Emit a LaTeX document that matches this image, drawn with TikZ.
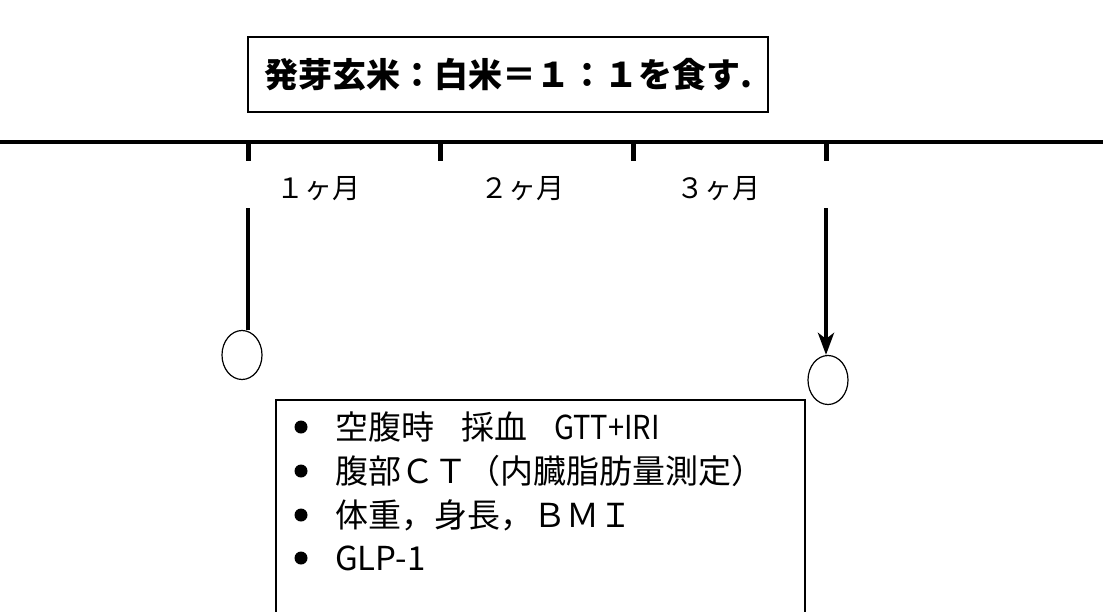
\documentclass[tikz,border=0pt]{standalone}
\usepackage{fontspec}
\usepackage{graphicx}
\setmainfont{Noto Sans CJK JP}
\usetikzlibrary{shapes.geometric,arrows.meta}
\begin{document}
\begin{tikzpicture}[x=1pt,y=-1pt,
  axisline/.style={line width=4pt},
  tickmark/.style={line width=5pt},
  conn/.style={line width=4pt},
  visit/.style={draw, ellipse, line width=1.2pt, minimum width=40pt, minimum height=49pt, inner sep=0pt},
  titlebox/.style={draw, line width=1.2pt, minimum width=520pt, minimum height=75pt, inner sep=0pt, font=\bfseries\fontsize{34}{38}\selectfont},
  bul/.style={circle, fill=black, minimum size=13pt, inner sep=0pt},
  itemtext/.style={anchor=west, inner sep=0pt, font=\fontsize{33}{36}\selectfont},
  monthlabel/.style={inner sep=0pt, font=\fontsize{28}{32}\selectfont}
]
\useasboundingbox (0,0) rectangle (1103,611);
\fill[white] (0,0) rectangle (1103,611);

\node[titlebox] (title) at (508,74.5) {発芽玄米：白米＝１：１を食す.};

\coordinate (axL) at (0,142);
\coordinate (axR) at (1103,142);
\draw[axisline] (axL) -- (axR);

\foreach \i/\x in {1/248,2/440,3/633,4/826}{
  \coordinate (t\i a) at (\x,142);
  \coordinate (t\i b) at (\x,161);
  \draw[tickmark] (t\i a) -- (t\i b);
}

\node[monthlabel] (m1) at (318,189) {１ヶ月};
\node[monthlabel] (m2) at (522,189) {２ヶ月};
\node[monthlabel] (m3) at (718,189) {３ヶ月};

\node[visit] (c1) at (242,355) {};
\node[visit] (c2) at (828,380) {};
\coordinate (s1) at (248,208);
\coordinate (s2) at (826,208);
\draw[conn] (s1) -- (s1 |- c1.north);
\draw[conn, -{Stealth[length=22pt,width=16pt,inset=6pt]}] (s2) -- (s2 |- c2.north);

\coordinate (bxA) at (276,615);
\coordinate (bxB) at (276,400);
\coordinate (bxC) at (805,400);
\coordinate (bxD) at (805,615);
\draw[line width=1.2pt] (bxA) -- (bxB) -- (bxC) -- (bxD);

\foreach \i/\y in {1/427,2/471,3/515,4/558}{
  \node[bul] (b\i) at (301,\y) {};
}
\node[itemtext] (i1) at (335,427) {空腹時\hspace{27pt}採血\hspace{27pt}\scalebox{0.88}[1]{GTT+IRI}};
\node[itemtext] (i2) at (335,471) {腹部ＣＴ（内臓脂肪量測定）};
\node[itemtext] (i3) at (335,515) {体重，身長，ＢＭＩ};
\node[itemtext] (i4) at (335,558) {GLP-1};
\end{tikzpicture}
\end{document}
